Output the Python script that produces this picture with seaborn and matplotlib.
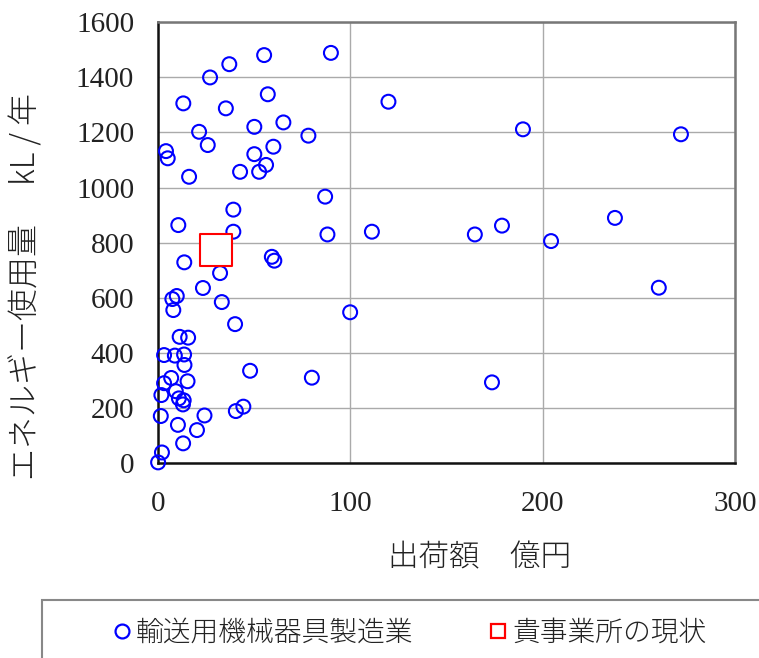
import numpy as np
import pandas as pd
import matplotlib
matplotlib.use('Agg')
import matplotlib.pyplot as plt
import seaborn as sns
from matplotlib.lines import Line2D
from matplotlib.patches import Rectangle

# 出荷額 (億円) と エネルギー使用量 (kL/年) - 輸送用機械器具製造業
shipment = [55.3, 90.0, 37.2, 27.2, 57.2, 13.3, 119.9, 35.4, 65.3, 50.2,
            21.5, 78.3, 189.8, 271.9, 26.0, 60.1, 4.3, 5.2, 50.2, 56.3,
            52.7, 42.8, 16.3, 87.0, 39.3, 10.7, 178.9, 237.6, 111.3, 39.3,
            88.2, 164.8, 204.4, 13.8, 59.3, 60.6, 32.4, 23.5, 260.4, 9.9,
            7.6, 33.3, 8.1, 100.0, 40.2, 11.4, 15.8, 3.3, 8.9, 13.7,
            13.9, 48.0, 80.1, 173.7, 7.0, 3.3, 15.5, 1.9, 9.4, 11.0,
            13.5, 13.1, 1.6, 24.3, 40.6, 44.5, 10.5, 20.4, 13.2, 2.2, 0.2]
energy = [1480, 1488, 1447, 1399, 1338, 1305, 1311, 1287, 1236, 1220,
          1202, 1188, 1211, 1193, 1154, 1148, 1132, 1106, 1121, 1082,
          1057, 1057, 1039, 967, 920, 864, 862, 890, 840, 840,
          830, 830, 806, 729, 749, 735, 690, 636, 637, 607,
          596, 585, 556, 548, 505, 459, 456, 393, 391, 395,
          357, 336, 311, 294, 310, 291, 298, 248, 262, 236,
          229, 214, 172, 174, 190, 206, 140, 121, 73, 40, 4]

# 貴事業所の現状
own_shipment = [30.2]
own_energy = [775]

series_label = '輸送用機械器具製造業'
own_label = '貴事業所の現状'

df = pd.DataFrame({'出荷額': shipment, 'エネルギー使用量': energy})
df_own = pd.DataFrame({'出荷額': own_shipment, 'エネルギー使用量': own_energy})

sns.set_style('white')
plt.rcParams['font.family'] = ['Noto Sans CJK JP', 'DejaVu Sans']
text_col = '#222222'

fig = plt.figure(figsize=(7.59, 6.58), dpi=100)
ax = fig.add_axes([0.2078, 0.2956, 0.7606, 0.6710])

sns.scatterplot(data=df, x='出荷額', y='エネルギー使用量', ax=ax, marker='o', s=100,
                facecolor='none', edgecolor='#0000ff', linewidth=1.5,
                legend=False, clip_on=False, zorder=3)
sns.scatterplot(data=df_own, x='出荷額', y='エネルギー使用量', ax=ax, marker='s', s=540,
                facecolor='white', edgecolor='#ff0000', linewidth=1.5,
                legend=False, clip_on=False, zorder=4)

ax.set_xlim(0, 300)
ax.set_ylim(0, 1600)
ax.set_xticks(np.arange(0, 301, 100))
ax.set_yticks(np.arange(0, 1601, 200))
ax.grid(True, color='#aaaaaa', linewidth=1.0)
ax.set_axisbelow(True)

ax.tick_params(axis='x', direction='in', length=3, width=1, pad=20, colors='#333333')
ax.tick_params(axis='y', direction='in', length=4, width=1, pad=17, colors='#333333')
for lab in ax.get_xticklabels() + ax.get_yticklabels():
    lab.set_fontfamily('Liberation Serif')
    lab.set_fontsize(21)
    lab.set_color(text_col)

for side in ['left', 'bottom']:
    ax.spines[side].set_color('#111111')
    ax.spines[side].set_linewidth(1.8)
for side in ['top', 'right']:
    ax.spines[side].set_color('#777777')
    ax.spines[side].set_linewidth(1.8)

ax.set_xlabel('出荷額　億円', fontsize=22, color=text_col, fontweight='light')
ax.xaxis.set_label_coords(0.558, -0.176)
ax.set_ylabel('エネルギー使用量　 kL / 年', fontsize=23, color=text_col, fontweight='light')
ax.yaxis.set_label_coords(-0.197, 0.40)

# 凡例の枠
fig.patches.append(Rectangle((42 / 759, -0.1), 1.0, 0.1 + 1 - 600 / 658,
                             transform=fig.transFigure, fill=False,
                             edgecolor='#888888', linewidth=1.5))

handles = [
    Line2D([], [], linestyle='none', marker='o', markersize=10, markerfacecolor='none',
           markeredgecolor='#0000ff', markeredgewidth=1.6),
    Line2D([], [], linestyle='none', marker='s', markersize=10, markerfacecolor='white',
           markeredgecolor='#ff0000', markeredgewidth=1.6),
]
leg = fig.legend(handles, [series_label, own_label], loc='center left',
                 bbox_to_anchor=(111 / 759, 1 - 633 / 658), ncol=2, frameon=False,
                 fontsize=20, handlelength=0.8, handletextpad=0.1,
                 columnspacing=2.65, borderpad=0, borderaxespad=0)
for t in leg.get_texts():
    t.set_color(text_col)
    t.set_fontweight('light')

fig.savefig('out.png', dpi=100)
